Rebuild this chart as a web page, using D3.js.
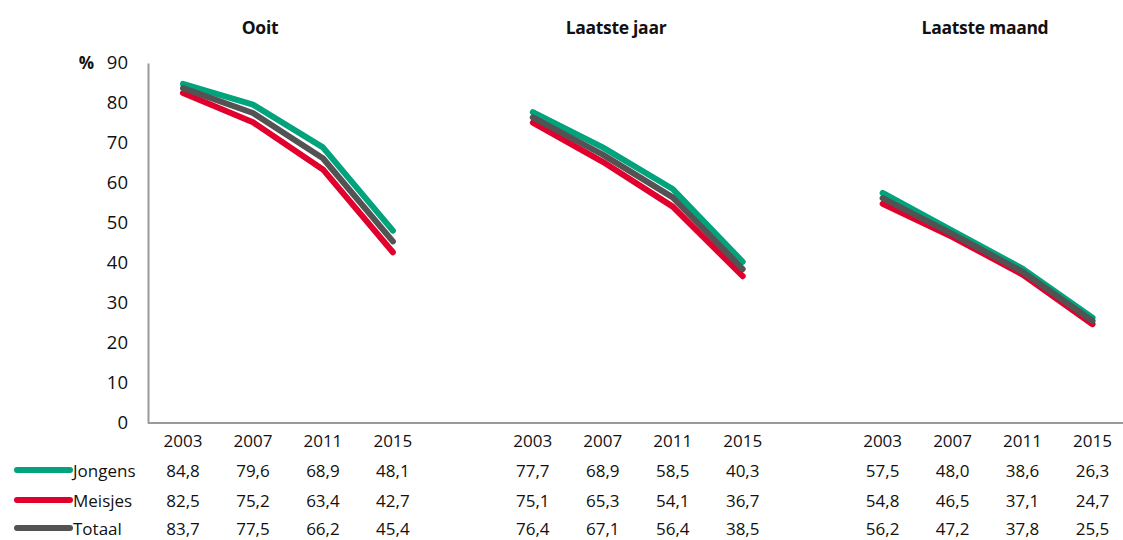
<!DOCTYPE html>
<html><head><meta charset="utf-8">
<script src="https://cdn.jsdelivr.net/npm/d3@7"></script>
<style>html,body{margin:0;padding:0;background:#fff;}svg{display:block;}</style>
</head><body><svg id="c" width="1123" height="540"></svg>
<script>
const panels = ["Ooit", "Laatste jaar", "Laatste maand"];
const years = ["2003", "2007", "2011", "2015"];
const seriesNames = ["Jongens", "Meisjes", "Totaal"];
const seriesColors = ["#00a37c", "#e1002d", "#535353"];
const jongens = [[84.8, 79.6, 68.9, 48.1], [77.7, 68.9, 58.5, 40.3], [57.5, 48.0, 38.6, 26.3]];
const meisjes = [[82.5, 75.2, 63.4, 42.7], [75.1, 65.3, 54.1, 36.7], [54.8, 46.5, 37.1, 24.7]];
const totaal  = [[83.7, 77.5, 66.2, 45.4], [76.4, 67.1, 56.4, 38.5], [56.2, 47.2, 37.8, 25.5]];
const yTicks = [0, 10, 20, 30, 40, 50, 60, 70, 80, 90];

const seriesData = [jongens, meisjes, totaal];
const fmt = v => v.toFixed(1).replace(".", ",");
const svg = d3.select("#c");
const font = "'Open Sans', sans-serif";

const slots = [];
panels.forEach((p, pi) => {
  years.forEach(y => slots.push(p + "|" + y));
  if (pi < panels.length - 1) slots.push("gap" + pi);
});
const x = d3.scaleBand().domain(slots).range([148, 1127.5]);
const xc = k => x(k) + x.bandwidth() / 2;
const y = d3.scaleLinear().domain([0, 90]).range([423, 63]);

const yAxis = svg.append("g").attr("transform", "translate(148,0)")
  .call(d3.axisLeft(y).tickValues(yTicks).tickSize(0).tickPadding(20));
yAxis.select(".domain").attr("stroke", "#9a9a9a").attr("stroke-width", 2);
yAxis.selectAll("text").attr("font-family", font).attr("font-size", 18.5).attr("fill", "#111");
svg.append("text").attr("x", 94).attr("y", y(90)).attr("dy", "0.35em").attr("text-anchor", "end")
  .attr("font-family", font).attr("font-weight", "bold").attr("font-size", 17).attr("fill", "#111").text("%");

svg.append("line").attr("x1", 148).attr("x2", 1123).attr("y1", y(0)).attr("y2", y(0))
  .attr("stroke", "#9a9a9a").attr("stroke-width", 2);

const titleX = [260, 616, 985];
panels.forEach((p, pi) => {
  svg.append("text").attr("x", titleX[pi]).attr("y", 34).attr("text-anchor", "middle")
    .attr("font-family", font).attr("font-weight", "bold").attr("font-size", 17.5)
    .attr("fill", "#111").attr("letter-spacing", "-0.3").text(p);
});

const line = d3.line().x(d => xc(d.k)).y(d => y(d.v));
seriesData.forEach((sd, si) => {
  panels.forEach((p, pi) => {
    const pts = years.map((yr, i) => ({k: p + "|" + yr, v: sd[pi][i]}));
    svg.append("path").datum(pts).attr("d", line).attr("fill", "none")
      .attr("stroke", seriesColors[si]).attr("stroke-width", 6)
      .attr("stroke-linecap", "round").attr("stroke-linejoin", "round");
  });
});

const rowY = [447, 477, 507, 535];
panels.forEach(p => {
  years.forEach(yr => {
    svg.append("text").attr("x", xc(p + "|" + yr)).attr("y", rowY[0]).attr("text-anchor", "middle")
      .attr("font-family", font).attr("font-size", 17).attr("fill", "#111").text(yr);
  });
});
seriesData.forEach((sd, si) => {
  const ry = rowY[si + 1];
  svg.append("line").attr("x1", 17).attr("x2", 70).attr("y1", ry - 7).attr("y2", ry - 7)
    .attr("stroke", seriesColors[si]).attr("stroke-width", 6).attr("stroke-linecap", "round");
  svg.append("text").attr("x", 73).attr("y", ry).attr("font-family", font).attr("font-size", 17)
    .attr("fill", "#111").text(seriesNames[si]);
  panels.forEach((p, pi) => {
    years.forEach((yr, i) => {
      svg.append("text").attr("x", xc(p + "|" + yr)).attr("y", ry).attr("text-anchor", "middle")
        .attr("font-family", font).attr("font-size", 17).attr("fill", "#111").text(fmt(sd[pi][i]));
    });
  });
});
</script></body></html>
